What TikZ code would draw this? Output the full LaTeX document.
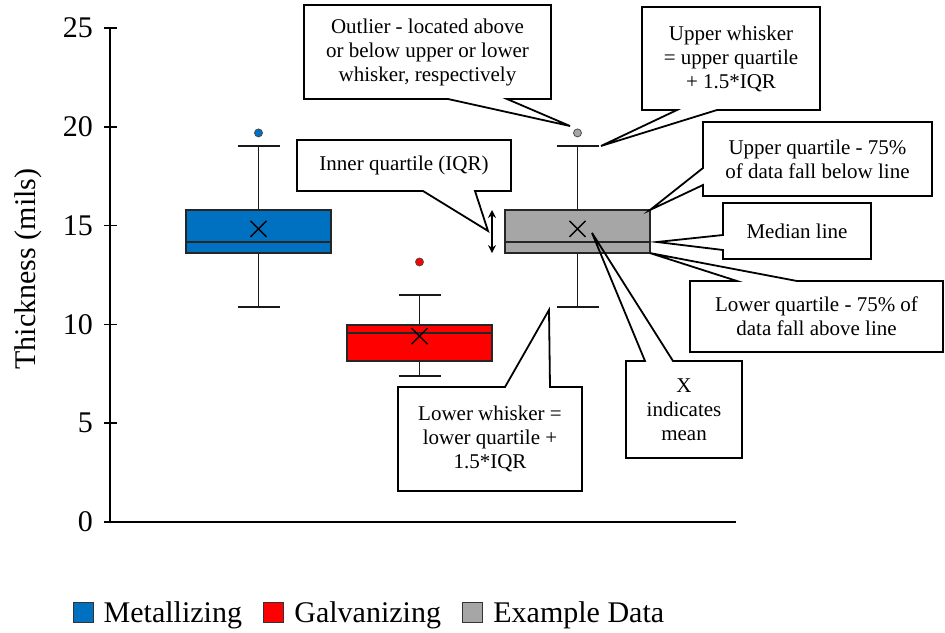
\documentclass[tikz,border=0pt]{standalone}
\usepackage{fontspec}
\setmainfont{Liberation Serif}
\usetikzlibrary{arrows.meta}

\definecolor{metblue}{RGB}{0,112,192}
\definecolor{galvred}{RGB}{255,0,0}
\definecolor{exgray}{RGB}{166,166,166}

\tikzset{
  note/.style={rectangle, inner sep=0pt, outer sep=0pt, align=center,
    font=\fontsize{21}{24}\selectfont},
  noteline/.style={line width=1.8pt, line join=miter},
  axisfont/.style={font=\fontsize{30}{36}\selectfont},
  legendkey/.style={rectangle, draw=black!80, line width=1pt, minimum size=20pt, inner sep=0pt},
}

\begin{document}
\begin{tikzpicture}[x=1pt, y=-1pt]
\useasboundingbox (0,0) rectangle (945,632);

% plot area, y given in mils
\begin{scope}[yshift=-522pt, y=19.76pt]
  \draw[line width=1.8pt] (110,25) -- (110,0) -- (736,0);
  \foreach \v in {0,5,...,25} {
    \draw[line width=1.5pt] (104,\v) -- (117,\v);
    \node[axisfont, anchor=east, inner sep=0pt] at (93,\v) {\v};
  }
  % left edge/colour/low/Q1/median/Q3/high/mean/outlier
  \foreach \xl/\col/\lo/\qa/\md/\qb/\hi/\mn/\ol in {
      186/metblue/10.88/13.61/14.17/15.79/19.03/14.83/19.69,
      347/galvred/7.39/8.15/9.56/9.97/11.49/9.41/13.16,
      505/exgray/10.88/13.61/14.17/15.79/19.03/14.83/19.69} {
    \pgfmathsetmacro{\xc}{\xl+72.5}
    \draw[black!90, line width=1.9pt] (\xc,\qb) -- (\xc,\hi) (\xc-21,\hi) -- (\xc+21,\hi)
                            (\xc,\qa) -- (\xc,\lo) (\xc-21,\lo) -- (\xc+21,\lo);
    \filldraw[fill=\col, draw=black!85, line width=1.8pt] (\xl,\qa) rectangle (\xl+145,\qb);
    \draw[black!85, line width=1.8pt] (\xl,\md) -- (\xl+145,\md);
    \draw[line width=1.4pt] (\xc,\mn) +(-8pt,-8pt) -- +(8pt,8pt) +(-8pt,8pt) -- +(8pt,-8pt);
    \filldraw[fill=\col, draw=black!70, line width=0.8pt] (\xc,\ol) circle (4pt);
  }

  % where the notes point to
  \coordinate (tipOut) at (570,20.04);
  \coordinate (tipUW) at (601,19.03);
  \coordinate (tipUQ) at (650,15.79);
  \coordinate (tipMed) at (657,14.17);
  \coordinate (tipLQ) at (650,13.61);
  \coordinate (tipMean) at (592,14.63);
  \coordinate (tipLW) at (549,10.73);
  \coordinate (tipIQR) at (488,14.73);
  \coordinate (iqrTop) at (492,15.79);
  \coordinate (iqrBot) at (492,13.61);
\end{scope}

\draw[{Stealth[length=8pt,width=8pt]}-{Stealth[length=8pt,width=8pt]}, line width=1.5pt] (iqrTop) -- (iqrBot);

\node[axisfont, rotate=90] (yLabel) at (28,269) {Thickness (mils)};

% notes
\node[note, minimum width=247pt, minimum height=94pt] (outNote) at (427.5,52) {Outlier - located above\\or below upper or lower\\whisker, respectively};
\draw[noteline] (outNote.north west) -- (outNote.north east) -- (outNote.south east)
  -- ([xshift=203pt]outNote.south west) -- (tipOut) -- ([xshift=144pt]outNote.south west)
  -- (outNote.south west) -- cycle;

\node[note, minimum width=178pt, minimum height=103pt] (uwNote) at (731,58.5) {Upper whisker\\= upper quartile\\+ 1.5*IQR};
\draw[noteline] (uwNote.north west) -- (uwNote.north east) -- (uwNote.south east)
  -- ([xshift=75pt]uwNote.south west) -- (tipUW) -- ([xshift=35pt]uwNote.south west)
  -- (uwNote.south west) -- cycle;

\node[note, minimum width=229pt, minimum height=74pt] (uqNote) at (817.5,159) {Upper quartile - 75\%\\of data fall below line};
\draw[noteline] (uqNote.north west) -- (uqNote.north east) -- (uqNote.south east)
  -- (uqNote.south west) -- ([yshift=11pt]uqNote.south west) -- (tipUQ)
  -- ([yshift=-46pt]uqNote.north west) -- cycle;

\node[note, minimum width=148pt, minimum height=56pt] (medNote) at (797,231) {Median line};
\draw[noteline] (medNote.north west) -- (medNote.north east) -- (medNote.south east)
  -- (medNote.south west) -- ([yshift=9pt]medNote.south west) -- (tipMed)
  -- ([yshift=-32pt]medNote.north west) -- cycle;

\node[note, minimum width=253pt, minimum height=71pt] (lqNote) at (816.5,316.5) {Lower quartile - 75\% of\\data fall above line};
\draw[noteline] (lqNote.north west) -- ([xshift=47pt]lqNote.north west) -- (tipLQ)
  -- ([xshift=107pt]lqNote.north west) -- (lqNote.north east) -- (lqNote.south east)
  -- (lqNote.south west) -- cycle;

\node[note, minimum width=116pt, minimum height=97pt] (meanNote) at (684,409.5) {X\\indicates\\mean};
\draw[noteline] (meanNote.north west) -- ([xshift=19pt]meanNote.north west) -- (tipMean)
  -- ([xshift=47pt]meanNote.north west) -- (meanNote.north east) -- (meanNote.south east)
  -- (meanNote.south west) -- cycle;

\node[note, minimum width=184pt, minimum height=104pt] (lwNote) at (490,439) {Lower whisker =\\lower quartile +\\1.5*IQR};
\draw[noteline] (lwNote.north west) -- ([xshift=107pt]lwNote.north west) -- (tipLW)
  -- ([xshift=152pt]lwNote.north west) -- (lwNote.north east) -- (lwNote.south east)
  -- (lwNote.south west) -- cycle;

\node[note, minimum width=214pt, minimum height=51pt] (iqrNote) at (404,165.5) {Inner quartile (IQR)};
\draw[noteline] (iqrNote.north west) -- (iqrNote.north east) -- (iqrNote.south east)
  -- ([xshift=178pt]iqrNote.south west) -- (tipIQR) -- ([xshift=126pt]iqrNote.south west)
  -- (iqrNote.south west) -- cycle;

% legend
\node[legendkey, fill=metblue] (keyMet) at (83,612) {};
\node[axisfont, anchor=base west, inner sep=0pt] (txtMet) at ([xshift=10pt]keyMet.south east) {Metallizing};
\node[legendkey, fill=galvred, anchor=south west] (keyGalv) at ([xshift=21pt]txtMet.base east) {};
\node[axisfont, anchor=base west, inner sep=0pt] (txtGalv) at ([xshift=10pt]keyGalv.south east) {Galvanizing};
\node[legendkey, fill=exgray, anchor=south west] (keyEx) at ([xshift=21pt]txtGalv.base east) {};
\node[axisfont, anchor=base west, inner sep=0pt] (txtEx) at ([xshift=10pt]keyEx.south east) {Example Data};
\end{tikzpicture}
\end{document}
